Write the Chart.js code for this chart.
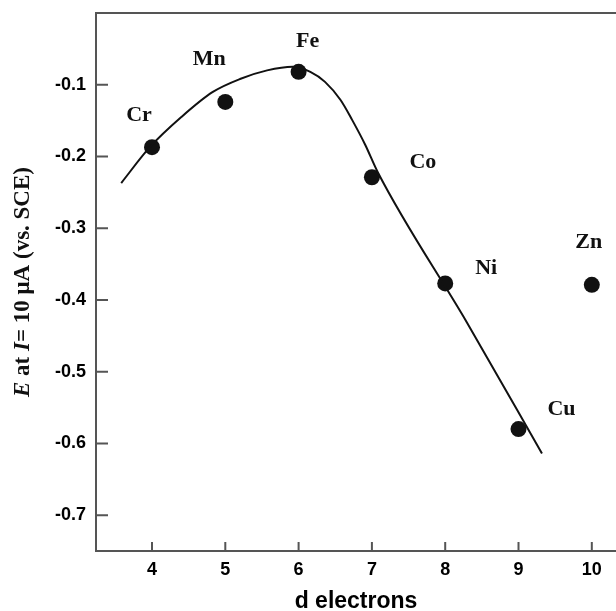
<!DOCTYPE html>
<html>
<head>
<meta charset="utf-8">
<script src="https://cdn.jsdelivr.net/npm/chart.js@4.4.0/dist/chart.umd.min.js"></script>
<style>
  html, body { margin: 0; padding: 0; background: #fff; overflow: hidden; }
</style>
</head>
<body>
<canvas id="chart" width="616" height="611"></canvas>
<script>
// measured points
const elements = ["Cr", "Mn", "Fe", "Co", "Ni", "Cu", "Zn"];
const dElectrons = [4, 5, 6, 7, 8, 9, 10];
const potential = [-0.187, -0.124, -0.082, -0.229, -0.377, -0.58, -0.379];

// hand-drawn trend curve
const fitX = [3.58, 3.97, 4.4, 4.83, 5.2, 5.57, 5.92, 6.16, 6.36, 6.57, 6.73, 6.91, 7.08, 8.3, 9.32];
const fitY = [-0.237, -0.187, -0.145, -0.11, -0.092, -0.08, -0.075, -0.082, -0.096, -0.121, -0.149, -0.184, -0.222, -0.432, -0.614];

const xTicks = [4, 5, 6, 7, 8, 9, 10];
const yTicks = [-0.1, -0.2, -0.3, -0.4, -0.5, -0.6, -0.7];

// label offsets (px) from each point
const labelDx = [-13, -16, 9, 51, 41, 43, -3];
const labelDy = [-32, -43, -31, -15, -15, -20, -43];

const yTitle = [
  ["E", "italic bold 23px 'Liberation Serif'"],
  [" at ", "bold 23px 'Liberation Serif'"],
  ["I", "italic bold 23px 'Liberation Serif'"],
  ["= 10 \u03BCA (vs. SCE)", "bold 23px 'Liberation Serif'"],
];

const decor = {
  id: "decor",
  beforeDatasetsDraw(chart) {
    const { ctx, chartArea: a, scales: { x, y } } = chart;
    ctx.save();
    ctx.strokeStyle = "#555";
    ctx.lineWidth = 2;
    // top frame line
    ctx.beginPath();
    ctx.moveTo(a.left - 1, a.top);
    ctx.lineTo(a.right, a.top);
    ctx.stroke();
    // inward tick marks
    ctx.beginPath();
    x.ticks.forEach((t) => {
      const px = x.getPixelForValue(t.value);
      ctx.moveTo(px, a.bottom);
      ctx.lineTo(px, a.bottom - 9);
    });
    y.ticks.forEach((t) => {
      const py = y.getPixelForValue(t.value);
      ctx.moveTo(a.left, py);
      ctx.lineTo(a.left + 12, py);
    });
    ctx.stroke();
    ctx.restore();
  },
  afterDraw(chart) {
    const { ctx, chartArea: a, scales: { x, y } } = chart;
    ctx.save();
    ctx.fillStyle = "#111";
    ctx.font = "bold 22px 'Liberation Serif'";
    ctx.textAlign = "center";
    ctx.textBaseline = "middle";
    elements.forEach((name, i) => {
      const px = x.getPixelForValue(dElectrons[i]) + labelDx[i];
      const py = y.getPixelForValue(potential[i]) + labelDy[i];
      ctx.fillText(name, px, py);
    });

    // y axis title with italic E and I
    ctx.translate(23, (a.top + a.bottom) / 2);
    ctx.rotate(-Math.PI / 2);
    ctx.textAlign = "left";
    let total = 0;
    yTitle.forEach(([txt, font]) => {
      ctx.font = font;
      total += ctx.measureText(txt).width;
    });
    let pos = -total / 2;
    yTitle.forEach(([txt, font]) => {
      ctx.font = font;
      ctx.fillText(txt, pos, 0);
      pos += ctx.measureText(txt).width;
    });
    ctx.restore();
  },
};

const ctx = document.getElementById("chart").getContext("2d");
new Chart(ctx, {
  type: "scatter",
  data: {
    datasets: [
      {
        data: fitX.map((v, i) => ({ x: v, y: fitY[i] })),
        showLine: true,
        borderColor: "#111",
        borderWidth: 2,
        pointRadius: 0,
        cubicInterpolationMode: "monotone",
      },
      {
        data: dElectrons.map((v, i) => ({ x: v, y: potential[i] })),
        backgroundColor: "#111",
        borderWidth: 0,
        pointRadius: 8,
      },
    ],
  },
  options: {
    responsive: false,
    animation: false,
    layout: { autoPadding: false, padding: { top: 13, right: 0, bottom: 0, left: 0 } },
    plugins: {
      legend: { display: false },
      tooltip: { enabled: false },
    },
    scales: {
      x: {
        type: "linear",
        min: 3.236,
        max: 10.33,
        afterBuildTicks: (s) => {
          s.ticks = xTicks.map((v) => ({ value: v }));
        },
        afterFit: (s) => {
          s.height = 60;
          s.paddingLeft = 0;
          s.paddingRight = 0;
        },
        grid: { display: false, drawTicks: false },
        border: { color: "#555", width: 2 },
        ticks: {
          color: "#000",
          padding: 8,
          font: { family: "'Liberation Sans', Arial", size: 18, weight: "bold" },
        },
        title: {
          display: true,
          text: "d electrons",
          color: "#000",
          padding: 0,
          font: { family: "'Liberation Sans', Arial", size: 23, weight: "bold", lineHeight: 0.8 },
        },
      },
      y: {
        type: "linear",
        min: -0.75,
        max: 0,
        afterBuildTicks: (s) => {
          s.ticks = yTicks.map((v) => ({ value: v }));
        },
        afterFit: (s) => {
          s.width = 96;
          s.paddingTop = 0;
          s.paddingBottom = 0;
        },
        grid: { display: false, drawTicks: false },
        border: { color: "#555", width: 2 },
        ticks: {
          color: "#000",
          padding: 10,
          callback: (v) => v.toFixed(1),
          font: { family: "'Liberation Sans', Arial", size: 18, weight: "bold" },
        },
      },
    },
  },
  plugins: [decor],
});
</script>
</body>
</html>
